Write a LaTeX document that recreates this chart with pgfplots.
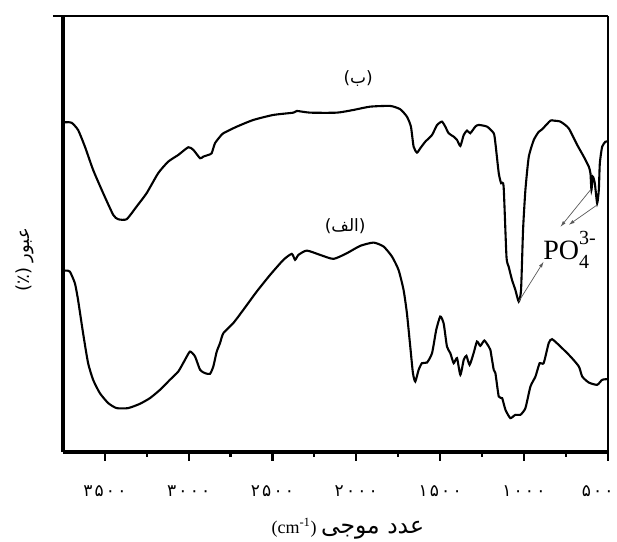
\documentclass[border=0pt]{standalone}
\usepackage{fontspec}
\setmainfont{Liberation Serif}
\newfontfamily\arabicfont[Script=Arabic]{DejaVu Sans}
\usepackage{pgfplots}
\pgfplotsset{compat=1.18}
\usetikzlibrary{arrows.meta}
\TeXXeTstate=1
\newcommand\dg[1]{#1\kern2.2pt}
\begin{document}
\begin{tikzpicture}
\begin{axis}[
  name=ax,
  scale only axis, width=545pt, height=436pt,
  x dir=reverse, xmin=500, xmax=3750, ymin=60, ymax=496,
  axis x line*=bottom, axis y line*=left,
  axis line style={line width=3.6pt, -},
  ytick=\empty,
  xtick={3500,3000,2500,2000,1500,1000,500},
  xticklabels={\dg{۳}\dg{۵}\dg{۰}۰,\dg{۳}\dg{۰}\dg{۰}۰,\dg{۲}\dg{۵}\dg{۰}۰,\dg{۲}\dg{۰}\dg{۰}۰,\dg{۱}\dg{۵}\dg{۰}۰,\dg{۱}\dg{۰}\dg{۰}۰,\makebox[0pt][c]{\hspace*{-20pt}\dg{۵}\dg{۰}۰}},
  minor xtick={3250,2750,2250,1750,1250,750},
  tick align=outside,
  major tick length=9pt, minor tick length=5pt,
  tick style={black, line width=2.2pt},
  xticklabel style={font=\arabicfont\fontsize{17}{17}\selectfont, anchor=center, yshift=-30pt},
  clip=false,
]
\addplot[black, line width=2.1pt, smooth, tension=0.35] coordinates {
(3745,389.7) (3733,389.7) (3699,389.3) (3660,382) (3619,365.3) (3570,342) (3510,318.7)
(3450,297) (3421,292.7) (3370,292.7) (3311,305.3) (3251,318.7) (3182,338.7) (3122,350.3)
(3062,357) (3002,364.7) (2972,362) (2932,353.7) (2913,355.3) (2883,357) (2863,358.7)
(2843,368.7) (2813,375.3) (2793,378.7) (2713,385.3) (2614,392) (2495,397) (2375,399.3)
(2355,401) (2275,399.3) (2116,399.3) (2017,402) (1917,405.3) (1797,406) (1738,402.7)
(1698,395.3) (1674,385.3) (1658,365.3) (1638,359.3) (1618,363.7) (1588,370.3) (1548,377)
(1518,387) (1489,390.3) (1469,385.3) (1449,378.7) (1419,375.3) (1399,372) (1379,366)
(1359,377) (1339,381.3) (1320,378.7) (1290,385.3) (1270,387) (1220,385.3) (1180,378.7)
(1170,368.7) (1150,338.7) (1136,328.7) (1121,325.3) (1104,255.3) (1091,245.3) (1071,232)
(1051,222) (1031,210.3) (1017,222) (1005,282) (991,322) (971,355) (941,372) (912,380)
(891,382.7) (842,391.3) (822,391.3) (782,390.3) (733,383.7) (682,367) (643,355.3)
(613,345.3) (603,338.7) (597,322) (589,335.3) (577,328.7) (563,308.7) (553,322)
(547,348.7) (533,365.3) (513,370.3) (500,370.3)
};
\addplot[black, line width=2.1pt, smooth, tension=0.35] coordinates {
(3745,241.3) (3733,241.3) (3709,240.3) (3679,228.7) (3660,212) (3630,178.7) (3600,148.7)
(3570,132) (3530,118.7) (3480,108.7) (3430,103.7) (3361,103.7) (3291,108) (3231,113.7)
(3171,122) (3112,132) (3062,140.3) (3022,152) (2992,160.3) (2962,155.3) (2932,142)
(2903,138.7) (2873,138) (2853,145.3) (2833,160) (2813,168.7) (2793,178.7) (2734,188.7)
(2674,202) (2594,220.3) (2514,237) (2435,252) (2385,258) (2365,252) (2345,257)
(2295,261.3) (2216,257) (2136,253) (2056,258.7) (1977,266) (1897,269.3) (1837,265.3)
(1787,255.3) (1748,242) (1718,222) (1698,198.7) (1678,165.3) (1662,138.7) (1648,130.3)
(1628,142) (1608,148.7) (1578,149.3) (1548,158.7) (1523,182) (1499,195.3) (1479,188.7)
(1459,165.3) (1439,158.7) (1419,148.7) (1399,153.7) (1379,137) (1359,152) (1343,156)
(1324,147) (1300,158.7) (1280,170.3) (1260,166) (1236,171.3) (1210,165.3) (1200,162)
(1180,142) (1170,138.7) (1150,115.3) (1130,113.7) (1110,102) (1081,93.7) (1051,97)
(1021,97) (991,103.7) (961,125.3) (931,135.3) (906,148.7) (882,148.7) (852,168.7)
(832,172.7) (782,165.3) (722,155.3) (672,145.3) (652,135.3) (613,129.3) (563,127)
(533,132) (500,132.7)
};
\draw[black!65, line width=0.7pt, -{Latex[length=6pt,width=3.5pt]}] (axis cs:1031,210.3) -- (axis cs:882,250.3);
\draw[black!65, line width=0.7pt, -{Latex[length=6pt,width=3.5pt]}] (axis cs:603,322) -- (axis cs:782,285);
\draw[black!65, line width=0.7pt, -{Latex[length=6pt,width=3.5pt]}] (axis cs:563,307) -- (axis cs:733,287);
\node[anchor=base west, inner sep=0pt, font=\fontsize{28}{28}\selectfont] at (axis cs:885,252)
  {PO\rlap{\raisebox{-9pt}{\fontsize{20}{20}\selectfont 4}}\raisebox{15pt}{\fontsize{20}{20}\selectfont 3-}};
\node[font=\arabicfont\fontsize{17}{17}\selectfont] at (axis cs:1989,433) {(ب)};
\node[font=\arabicfont\fontsize{17}{17}\selectfont] at (axis cs:2066,286) {(الف)};
\end{axis}
\draw[line width=2.8pt] ([xshift=-10pt]ax.north west) -- (ax.north east);
\draw[line width=2pt] (ax.north east) -- (ax.south east);
\node[font=\fontsize{18}{18}\selectfont] at ([shift={(285pt,-77pt)}]ax.south west)
  {(cm\textsuperscript{-1}) {\arabicfont\fontsize{23.5}{23.5}\selectfont\beginR عدد موجی\endR}};
\node[rotate=90, font=\arabicfont\fontsize{18}{18}\selectfont] at ([shift={(-38pt,192pt)}]ax.south west)
  {\beginR عبور (٪)\endR};
\pgfresetboundingbox
\path ([shift={(-63pt,-90pt)}]ax.south west) rectangle ([shift={(9.3pt,16pt)}]ax.north east);
\end{tikzpicture}
\end{document}
